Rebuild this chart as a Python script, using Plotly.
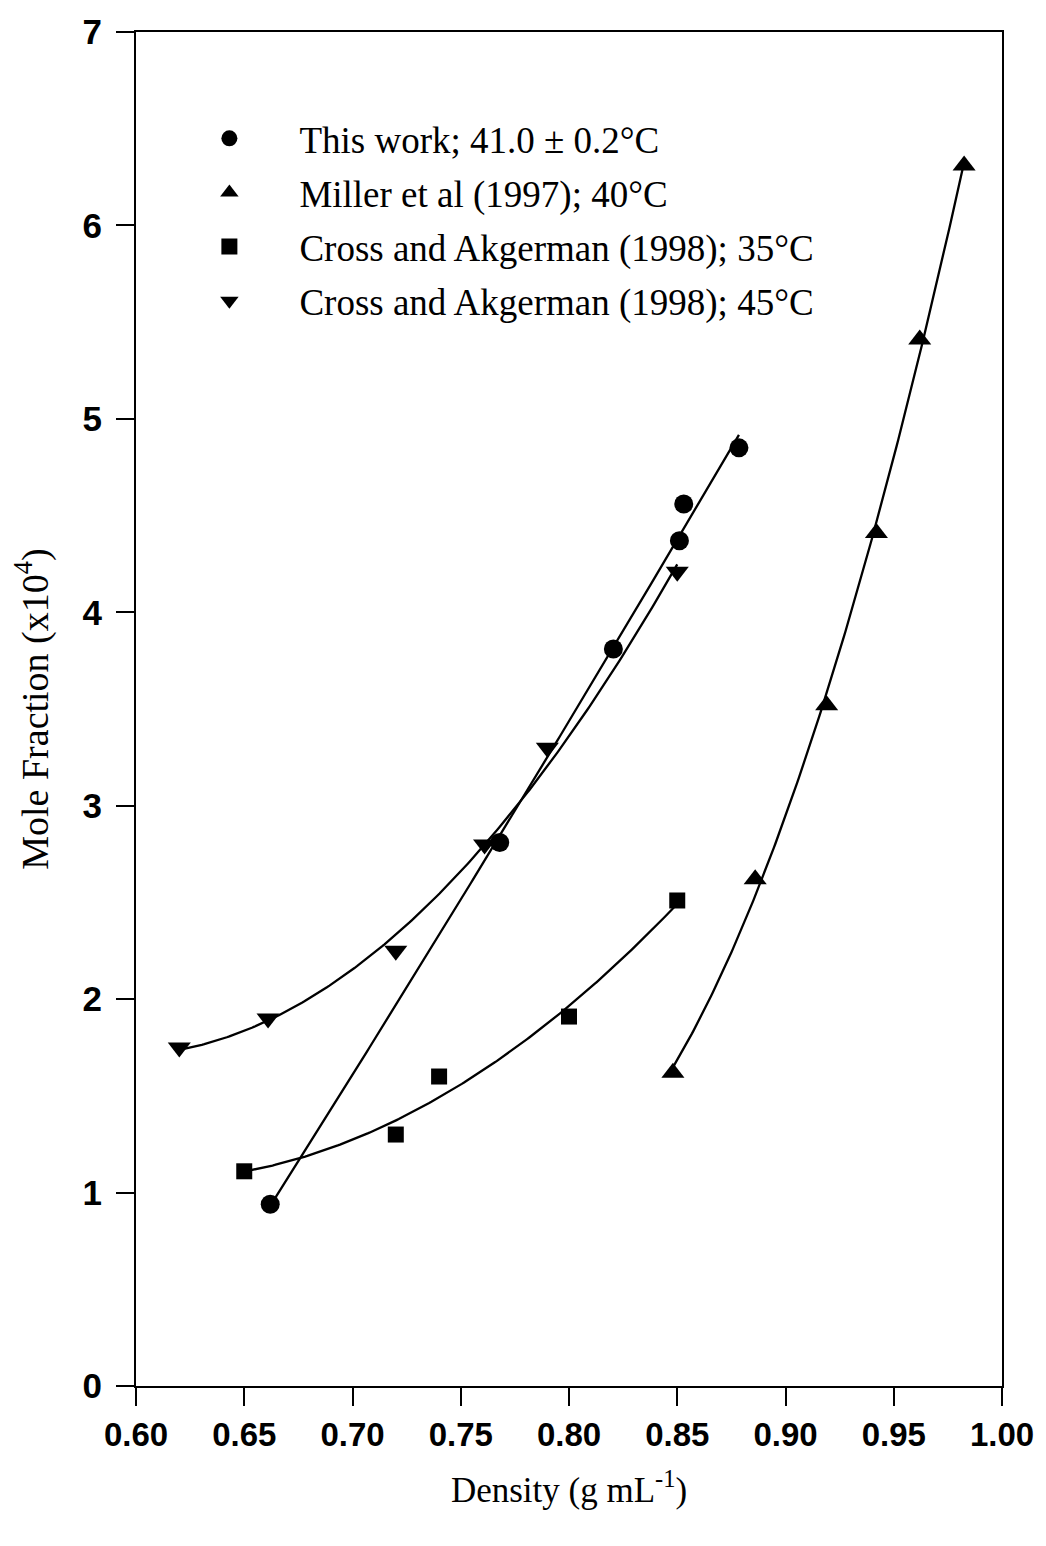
import numpy as np
import plotly.graph_objects as go

# Solubility data: density (g/mL) vs mole fraction (x10^4)
this_work_density = [0.662, 0.768, 0.8205, 0.851, 0.853, 0.8785]
this_work_molefrac = [0.94, 2.81, 3.81, 4.37, 4.56, 4.85]

miller_density = [0.848, 0.886, 0.919, 0.942, 0.962, 0.9825]
miller_molefrac = [1.62, 2.62, 3.52, 4.41, 5.41, 6.31]

cross35_density = [0.650, 0.720, 0.740, 0.800, 0.850]
cross35_molefrac = [1.11, 1.30, 1.60, 1.91, 2.51]

cross45_density = [0.620, 0.661, 0.720, 0.761, 0.790, 0.850]
cross45_molefrac = [1.75, 1.90, 2.25, 2.80, 3.30, 4.21]

series = [
    ("This work; 41.0 \u00b1 0.2\u00b0C", this_work_density, this_work_molefrac, "circle", 19, 2),
    ("Miller et al (1997); 40\u00b0C", miller_density, miller_molefrac, "triangle-up", 20, 2),
    ("Cross and Akgerman (1998); 35\u00b0C", cross35_density, cross35_molefrac, "square", 16, 2),
    ("Cross and Akgerman (1998); 45\u00b0C", cross45_density, cross45_molefrac, "triangle-down", 20, 2),
]

fig = go.Figure()

# Smooth regression curve for each data set (least-squares polynomial)
for name, xs, ys, sym, size, deg in series:
    coef = np.polyfit(xs, ys, deg)
    xf = np.linspace(min(xs), max(xs), 200)
    fig.add_trace(go.Scatter(
        x=xf, y=np.polyval(coef, xf), mode="lines",
        line=dict(color="black", width=2.3), showlegend=False, hoverinfo="skip",
    ))

for i, (name, xs, ys, sym, size, deg) in enumerate(series):
    fig.add_trace(go.Scatter(
        x=xs, y=ys, mode="markers", name=name, legendgroup="g%d" % i,
        marker=dict(symbol=sym, size=size, color="black", line=dict(width=0)),
    ))

tick_font = dict(family="Liberation Sans", size=33, color="black")

fig.update_layout(
    width=1046, height=1546,
    margin=dict(l=136, r=41, t=28, b=160),
    paper_bgcolor="white", plot_bgcolor="white",
    font=dict(family="Liberation Serif", color="black"),
    legend=dict(
        x=0.027, y=0.944, xanchor="left", yanchor="top",
        font=dict(family="Liberation Serif", size=37, color="black"),
        bgcolor="rgba(0,0,0,0)", itemwidth=130, tracegroupgap=3,
    ),
    xaxis=dict(
        range=[0.6, 1.0], tickvals=[0.6, 0.65, 0.7, 0.75, 0.8, 0.85, 0.9, 0.95, 1.0],
        ticktext=["<b>0.60</b>", "<b>0.65</b>", "<b>0.70</b>", "<b>0.75</b>", "<b>0.80</b>",
                  "<b>0.85</b>", "<b>0.90</b>", "<b>0.95</b>", "<b>1.00</b>"],
        showline=True, linecolor="black", linewidth=2, mirror=True,
        ticks="outside", ticklen=18, tickwidth=2, tickcolor="black",
        showgrid=False, zeroline=False, tickfont=tick_font,
        title=dict(text="Density (g mL<sup>-1</sup>)",
                   font=dict(family="Liberation Serif", size=35, color="black"), standoff=26),
    ),
    yaxis=dict(
        range=[0, 7], tickvals=[0, 1, 2, 3, 4, 5, 6, 7],
        ticktext=["<b>%d</b>" % v for v in range(8)],
        showline=True, linecolor="black", linewidth=2, mirror=True,
        ticks="outside", ticklen=18, tickwidth=2, tickcolor="black",
        showgrid=False, zeroline=False, tickfont=dict(family="Liberation Sans", size=35, color="black"),
        ticklabelstandoff=7,
        title=dict(text="Mole Fraction (x10<sup>4</sup>)",
                   font=dict(family="Liberation Serif", size=38, color="black"), standoff=22),
    ),
)

fig.write_html("out.html")
